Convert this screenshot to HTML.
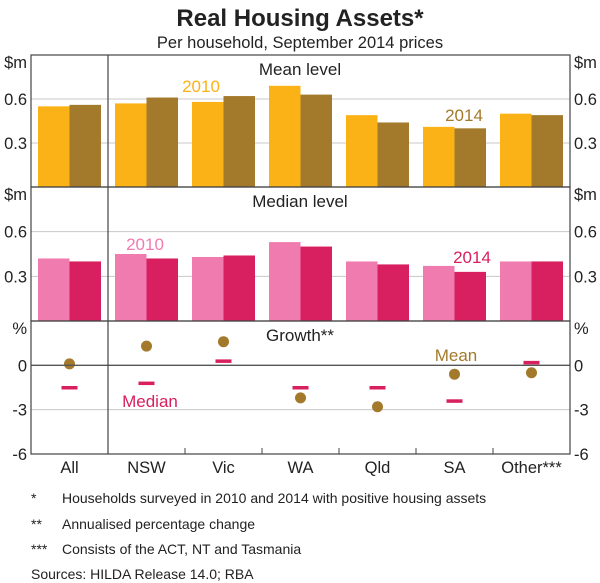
<!DOCTYPE html>
<html><head><meta charset="utf-8"><style>
body{margin:0;background:#fff;}
svg{display:block;font-family:"Liberation Sans",Arial,sans-serif;}
</style></head><body>
<svg id="c" width="600" height="583" viewBox="0 0 600 583"></svg>
<script>
const categories=["All","NSW","Vic","WA","Qld","SA","Other***"];
const mean2010=[0.55,0.57,0.58,0.69,0.49,0.41,0.50];
const mean2014=[0.56,0.61,0.62,0.63,0.44,0.40,0.49];
const median2010=[0.42,0.45,0.43,0.53,0.40,0.37,0.40];
const median2014=[0.40,0.42,0.44,0.50,0.38,0.33,0.40];
const growthMean=[0.1,1.3,1.6,-2.2,-2.8,-0.6,-0.5];
const growthMedian=[-1.5,-1.2,0.3,-1.5,-1.5,-2.4,0.2];
const levelTicks=[0.3,0.6];
const growthTicks=[0,-3,-6];

const svg=document.getElementById('c');
const NS='http://www.w3.org/2000/svg';
function el(tag,attrs,txt){const e=document.createElementNS(NS,tag);for(const k in attrs)e.setAttribute(k,attrs[k]);if(txt!==undefined)e.textContent=txt;svg.appendChild(e);return e;}
const L=31,R=570,cw=(R-L)/categories.length;
const xc=i=>L+cw*i;
const panels=[{top:55,bot:187},{top:187,bot:321},{top:321,bot:454}];
const yLevel=(p,v)=>p.bot-v/0.9*(p.bot-p.top);
const yGrowth=v=>{const p=panels[2];return p.top+(3-v)/9*(p.bot-p.top);};

let t=el('text',{x:300,y:26,'text-anchor':'middle','font-size':24,'font-weight':'bold',fill:'#222'},'Real Housing Assets*');

t=el('text',{x:300,y:48,'text-anchor':'middle','font-size':16.5,fill:'#222'},'Per household, September 2014 prices');


[0,1].forEach(pi=>{const p=panels[pi];levelTicks.forEach(v=>{const g=el('line',{x1:L,x2:R,y1:yLevel(p,v),y2:yLevel(p,v),stroke:'#c8c8c8','stroke-width':1});});});
[-3].forEach(v=>{const g=el('line',{x1:L,x2:R,y1:yGrowth(v),y2:yGrowth(v),stroke:'#c8c8c8','stroke-width':1});});

function bars(p,a,b,c1,c2,name){
 categories.forEach((c,i)=>{
  const x0=xc(i)+7,bw=(cw-14)/2;
  let r=el('rect',{x:x0,y:yLevel(p,a[i]),width:bw,height:p.bot-yLevel(p,a[i]),fill:c1});
  
  r=el('rect',{x:x0+bw,y:yLevel(p,b[i]),width:bw,height:p.bot-yLevel(p,b[i]),fill:c2});
  
 });
}
bars(panels[0],mean2010,mean2014,'#FBB217','#A3792B','mean');
bars(panels[1],median2010,median2014,'#F07CAF','#D81F5F','median');

categories.forEach((c,i)=>{
 const cx=xc(i)+cw/2;
 let m=el('rect',{x:cx-8,y:yGrowth(growthMedian[i])-1.5,width:16,height:3.5,fill:'#D81F5F'});
 
 m=el('circle',{cx:cx,cy:yGrowth(growthMean[i]),r:5.5,fill:'#A3792B'});
 
});
let z=el('line',{x1:L,x2:R,y1:yGrowth(0),y2:yGrowth(0),stroke:'#555','stroke-width':1.3});


panels.forEach(p=>{const r=el('rect',{x:L,y:p.top,width:R-L,height:p.bot-p.top,fill:'none',stroke:'#444','stroke-width':1.2});});
let d=el('line',{x1:xc(1),x2:xc(1),y1:panels[0].top,y2:panels[2].bot,stroke:'#444','stroke-width':1.2});

for(let i=2;i<categories.length;i++){const tk=el('line',{x1:xc(i),x2:xc(i),y1:panels[2].bot-6,y2:panels[2].bot,stroke:'#444'});}

function lab(x,y,s,anchor,name){const e=el('text',{x:x,y:y,'font-size':16.5,'text-anchor':anchor,fill:'#222'},s);}
[0,1].forEach(pi=>{const p=panels[pi];
 lab(27,p.top+13,'$m','end','y-axis-unit');lab(574,p.top+13,'$m','start','y-axis-unit');
 levelTicks.forEach(v=>{lab(27,yLevel(p,v)+6,v.toFixed(1),'end','y-tick-label');lab(574,yLevel(p,v)+6,v.toFixed(1),'start','y-tick-label');});
});
lab(27,panels[2].top+13,'%','end','y-axis-unit');lab(574,panels[2].top+13,'%','start','y-axis-unit');
growthTicks.forEach(v=>{lab(27,yGrowth(v)+6,String(v),'end','y-tick-label');lab(574,yGrowth(v)+6,String(v),'start','y-tick-label');});
categories.forEach((c,i)=>lab(xc(i)+cw/2,473,c,'middle','x-tick-label'));

function ann(x,y,s,col,name,anchor){const e=el('text',{x:x,y:y,'font-size':17,'text-anchor':anchor||'middle',fill:col},s);}
ann(300,75,'Mean level','#222','panel-title-mean');
ann(300,207,'Median level','#222','panel-title-median');
ann(300,341,'Growth**','#222','panel-title-growth');
ann(201,92,'2010','#FBB217','label-2010-mean');
ann(464,121,'2014','#A3792B','label-2014-mean');
ann(145,250,'2010','#F07CAF','label-2010-median');
ann(472,263,'2014','#D81F5F','label-2014-median');
ann(456,361,'Mean','#A3792B','label-mean');
ann(150,407,'Median','#D81F5F','label-median');

const notes=[[31,503,'*'],[62,503,'Households surveyed in 2010 and 2014 with positive housing assets'],[31,529,'**'],[62,529,'Annualised percentage change'],[31,554,'***'],[62,554,'Consists of the ACT, NT and Tasmania'],[31,579,'Sources:   HILDA Release 14.0; RBA']];
notes.forEach(n=>{const e=el('text',{x:n[0],y:n[1],'font-size':14,fill:'#222','xml:space':'preserve'},n[2]);});
</script>
</body></html>
